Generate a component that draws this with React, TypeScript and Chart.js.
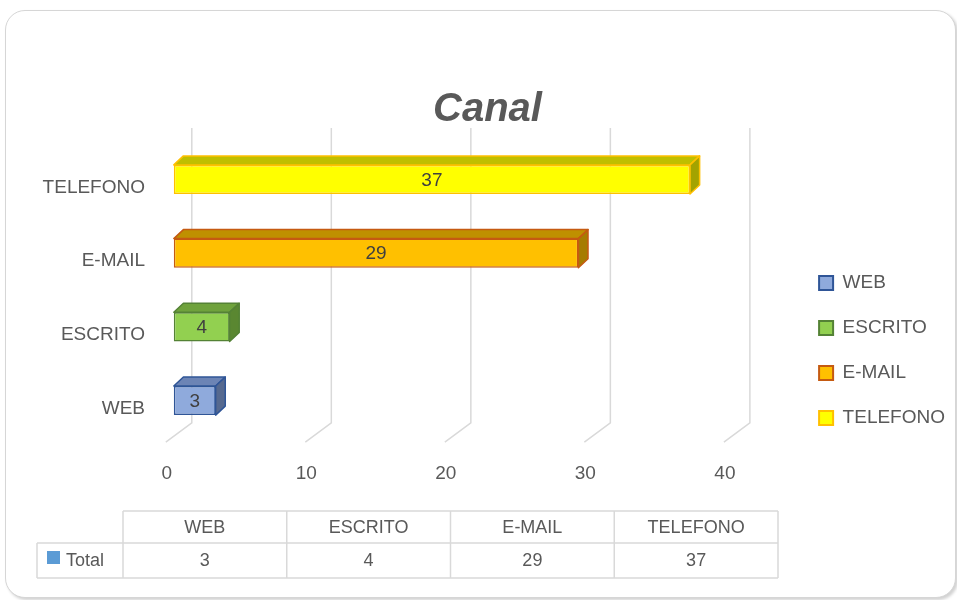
import React, { useEffect, useRef } from "react";
import { Chart, registerables } from "chart.js";

Chart.register(...registerables);

// ---- data ----
const categories = ["WEB", "ESCRITO", "E-MAIL", "TELEFONO"];
const totals = [3, 4, 29, 37];
const tickValues = [0, 10, 20, 30, 40];
const seriesName = "Total";
const chartTitle = "Canal";

// ---- styles ----
const frontColors = ["#8FAADC", "#92D050", "#FFC000", "#FFFF00"];
const borderColors = ["#2F5597", "#548235", "#C55A11", "#FFC000"];
const topColors = ["#6C84B5", "#6FA23C", "#BF9000", "#BFBF00"];
const sideColors = ["#56698F", "#5A8731", "#A67C00", "#A3A300"];
const FONT = "'Liberation Sans', Arial, sans-serif";
const TEXT = "#595959";
const GRID = "#D9D9D9";

const depthPlugin = {
  id: "depth3d",
  beforeDatasetsDraw(chart: any) {
    const { ctx, chartArea } = chart;
    const xs = chart.scales.x;
    ctx.save();
    ctx.strokeStyle = GRID;
    ctx.lineWidth = 1.5;
    for (const v of tickValues) {
      const fx = xs.getPixelForValue(v);
      ctx.beginPath();
      ctx.moveTo(fx + 18, chartArea.top - 14.6);
      ctx.lineTo(fx + 18, chartArea.bottom - 14.6);
      ctx.lineTo(fx - 8, chartArea.bottom + 4.8);
      ctx.stroke();
    }
    ctx.restore();
  },
  afterDatasetsDraw(chart: any) {
    const { ctx } = chart;
    const meta = chart.getDatasetMeta(0);
    const dx = 9.6;
    const dy = 9;
    ctx.save();
    meta.data.forEach((el: any, i: number) => {
      const { x, y, base, height } = el.getProps(["x", "y", "base", "height"], true);
      const top = y - height / 2;
      const bottom = y + height / 2;
      ctx.lineWidth = 1.5;
      ctx.lineJoin = "round";
      ctx.strokeStyle = borderColors[i];
      // top face
      ctx.beginPath();
      ctx.moveTo(base, top);
      ctx.lineTo(base + dx, top - dy);
      ctx.lineTo(x + dx, top - dy);
      ctx.lineTo(x, top);
      ctx.closePath();
      ctx.fillStyle = topColors[i];
      ctx.fill();
      ctx.stroke();
      // side face
      ctx.beginPath();
      ctx.moveTo(x, top);
      ctx.lineTo(x + dx, top - dy);
      ctx.lineTo(x + dx, bottom - dy);
      ctx.lineTo(x, bottom);
      ctx.closePath();
      ctx.fillStyle = sideColors[i];
      ctx.fill();
      ctx.stroke();
      // value label
      ctx.fillStyle = "#404040";
      ctx.font = `19px ${FONT}`;
      ctx.textAlign = "center";
      ctx.textBaseline = "middle";
      ctx.fillText(String(chart.data.datasets[0].data[i]), (base + x) / 2, y + 1);
    });
    ctx.restore();
  },
  afterDraw(chart: any) {
    const { ctx } = chart;
    const labels: string[] = chart.data.labels;
    const values: number[] = chart.data.datasets[0].data;
    const x0 = 123;
    const x1 = 778;
    const rowL = 37;
    const yTop = 511;
    const yMid = 543;
    const yBot = 578;
    const colW = (x1 - x0) / labels.length;
    ctx.save();
    ctx.strokeStyle = GRID;
    ctx.lineWidth = 1.5;
    ctx.beginPath();
    ctx.moveTo(x0, yTop);
    ctx.lineTo(x1, yTop);
    ctx.moveTo(rowL, yMid);
    ctx.lineTo(x1, yMid);
    ctx.moveTo(rowL, yBot);
    ctx.lineTo(x1, yBot);
    ctx.moveTo(rowL, yMid);
    ctx.lineTo(rowL, yBot);
    for (let i = 0; i <= labels.length; i++) {
      const cx = x0 + i * colW;
      ctx.moveTo(cx, yTop);
      ctx.lineTo(cx, yBot);
    }
    ctx.stroke();
    ctx.font = `18px ${FONT}`;
    ctx.fillStyle = TEXT;
    ctx.textAlign = "center";
    ctx.textBaseline = "middle";
    labels.forEach((l, i) => {
      const cx = x0 + (i + 0.5) * colW;
      ctx.fillText(l, cx, (yTop + yMid) / 2 + 1);
      ctx.fillText(String(values[i]), cx, (yMid + yBot) / 2 + 1);
    });
    ctx.fillStyle = "#5B9BD5";
    ctx.fillRect(47, 551, 13, 13);
    ctx.fillStyle = TEXT;
    ctx.textAlign = "left";
    ctx.fillText(seriesName, 66, (yMid + yBot) / 2 + 1);
    ctx.restore();
  },
};

export default function App() {
  const canvasRef = useRef<HTMLCanvasElement | null>(null);

  useEffect(() => {
    if (!canvasRef.current) return;
    const chart = new Chart(canvasRef.current, {
      type: "bar",
      data: {
        labels: categories,
        datasets: [
          {
            label: seriesName,
            data: totals,
            backgroundColor: frontColors,
            borderColor: borderColors,
            borderWidth: 1.5,
            borderSkipped: false,
            categoryPercentage: 1,
            barPercentage: 0.395,
            xAxisID: "x",
            yAxisID: "y",
          },
        ],
      },
      plugins: [depthPlugin],
      options: {
        indexAxis: "y",
        responsive: false,
        animation: false,
        devicePixelRatio: 1,
        layout: { padding: { top: 101, bottom: 0, left: 20, right: 2 } },
        scales: {
          x: {
            type: "linear",
            position: "bottom",
            min: -(173.8 - 160) / 13.95,
            max: (793 - 173.8) / 13.95,
            grid: { display: false, drawTicks: false },
            border: { display: false },
            afterBuildTicks: (s: any) => {
              s.ticks = tickValues.map((v) => ({ value: v }));
            },
            afterFit: (s: any) => {
              s.height = 162.6;
            },
            ticks: {
              padding: 25,
              labelOffset: -7,
              color: TEXT,
              font: { family: FONT, size: 19 },
            },
          },
          y: {
            type: "category",
            reverse: true,
            grid: { display: false, drawTicks: false },
            border: { display: false },
            afterFit: (s: any) => {
              s.width = 140;
            },
            ticks: {
              padding: 15,
              labelOffset: 8,
              color: TEXT,
              font: { family: FONT, size: 19 },
            },
          },
        },
        plugins: {
          title: {
            display: true,
            text: chartTitle,
            color: TEXT,
            font: { family: FONT, size: 40, weight: "bold", style: "italic", lineHeight: 0.3 },
            padding: { top: 3, bottom: 26.6 },
          },
          legend: {
            display: true,
            position: "right",
            align: "center",
            onClick: () => {},
            labels: {
              boxWidth: 14,
              boxHeight: 14,
              padding: 26,
              color: TEXT,
              font: { family: FONT, size: 19 },
              generateLabels: () =>
                categories.map((c, i) => ({
                  text: c,
                  fillStyle: frontColors[i],
                  strokeStyle: borderColors[i],
                  lineWidth: 2,
                  hidden: false,
                  index: i,
                  datasetIndex: 0,
                  fontColor: TEXT,
                })),
            },
          },
          tooltip: { enabled: false },
        },
      },
    });
    return () => chart.destroy();
  }, []);

  return (
    <div
      style={{
        position: "fixed",
        left: 0,
        top: 0,
        width: 957,
        height: 600,
        background: "#FFFFFF",
        overflow: "hidden",
      }}
    >
      <div
        style={{
          position: "absolute",
          left: 5,
          top: 10,
          width: 949,
          height: 586,
          border: "1.5px solid #D6D6D6",
          borderRadius: 20,
          boxShadow: "2px 2px 3px rgba(0,0,0,0.18)",
          background: "#FFFFFF",
        }}
      />
      <canvas
        ref={canvasRef}
        width={957}
        height={600}
        style={{ position: "absolute", left: 0, top: 0, width: 957, height: 600 }}
      />
    </div>
  );
}
